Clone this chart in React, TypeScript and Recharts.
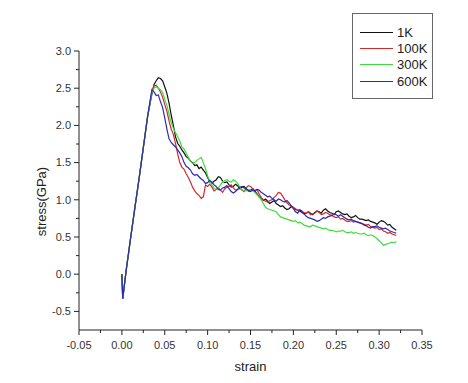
import React from "react";
import { LineChart, Line, XAxis, YAxis, Legend } from "recharts";

// strain values (shared by all four runs)
const strain = [
  0, 0.001, 0.005, 0.01, 0.015, 0.02, 0.025, 0.03,
  0.035, 0.0375, 0.04, 0.0425, 0.045, 0.0475, 0.05, 0.0525, 0.055, 0.0575,
  0.06, 0.0625, 0.065, 0.0675, 0.07, 0.0725, 0.075, 0.0775, 0.08, 0.0825,
  0.085, 0.0875, 0.09, 0.0925, 0.095, 0.0975, 0.1, 0.1025, 0.105, 0.1075,
  0.11, 0.1125, 0.115, 0.1175, 0.12, 0.1225, 0.125, 0.1275, 0.13, 0.1325,
  0.135, 0.1375, 0.14, 0.1425, 0.145, 0.1475, 0.15, 0.1525, 0.155, 0.1575,
  0.16, 0.1625, 0.165, 0.1675, 0.17, 0.1725, 0.175, 0.1775, 0.18, 0.1825,
  0.185, 0.1875, 0.19, 0.1925, 0.195, 0.1975, 0.2, 0.2025, 0.205, 0.2075,
  0.21, 0.2125, 0.215, 0.2175, 0.22, 0.2225, 0.225, 0.2275, 0.23, 0.2325,
  0.235, 0.2375, 0.24, 0.2425, 0.245, 0.2475, 0.25, 0.2525, 0.255, 0.2575,
  0.26, 0.2625, 0.265, 0.2675, 0.27, 0.2725, 0.275, 0.2775, 0.28, 0.2825,
  0.285, 0.2875, 0.29, 0.2925, 0.295, 0.2975, 0.3, 0.3025, 0.305, 0.3075,
  0.31, 0.3125, 0.315, 0.3175, 0.32,
];

// elastic part is the same for every temperature
const elasticRise = [0, -0.33, 0.05, 0.47, 0.88, 1.28, 1.7, 2.12];

const stress1K = [
  ...elasticRise,
  2.42, 2.55, 2.6, 2.64, 2.63, 2.6, 2.52, 2.43, 2.3, 2.14,
  2.0, 1.85, 1.76, 1.72, 1.67, 1.63, 1.58, 1.56, 1.52, 1.5,
  1.46, 1.47, 1.42, 1.44, 1.4, 1.36, 1.3, 1.24, 1.22, 1.25,
  1.27, 1.31, 1.3, 1.25, 1.23, 1.24, 1.2, 1.17, 1.18, 1.21,
  1.19, 1.15, 1.17, 1.18, 1.15, 1.12, 1.13, 1.15, 1.12, 1.08,
  1.04, 1.02, 0.99, 1.01, 0.98, 0.95, 0.97, 0.99, 0.95, 0.93,
  0.91, 0.92, 0.89, 0.87, 0.88, 0.91, 0.89, 0.87, 0.86, 0.85,
  0.83, 0.81, 0.82, 0.84, 0.82, 0.8, 0.83, 0.85, 0.84, 0.82,
  0.86, 0.88, 0.85, 0.83, 0.82, 0.8, 0.84, 0.85, 0.83, 0.81,
  0.8, 0.81, 0.78, 0.76, 0.77, 0.79, 0.76, 0.74, 0.74, 0.73,
  0.72, 0.73, 0.71, 0.7, 0.69, 0.67, 0.7, 0.72, 0.71, 0.69,
  0.66, 0.67, 0.63, 0.61, 0.59,
];

const stress100K = [
  ...elasticRise,
  2.46, 2.53, 2.54, 2.5, 2.45, 2.38, 2.28, 2.19, 2.06, 1.95,
  1.88, 1.76, 1.62, 1.5, 1.44, 1.41, 1.35, 1.3, 1.24, 1.17,
  1.12, 1.08, 1.06, 1.02, 1.04, 1.2, 1.18, 1.21, 1.17, 1.12,
  1.14, 1.16, 1.13, 1.1, 1.15, 1.17, 1.18, 1.2, 1.16, 1.13,
  1.14, 1.16, 1.13, 1.11, 1.16, 1.19, 1.18, 1.15, 1.12, 1.14,
  1.08, 1.03, 1.0, 0.98, 0.97, 0.99, 1.0, 1.03, 1.06, 1.1,
  1.09, 1.05, 1.0, 0.96, 0.93, 0.92, 0.9, 0.88, 0.86, 0.87,
  0.84, 0.83, 0.82, 0.84, 0.8, 0.81, 0.82, 0.85, 0.83, 0.8,
  0.81, 0.83, 0.82, 0.8, 0.79, 0.77, 0.76, 0.77, 0.74, 0.75,
  0.73, 0.71, 0.71, 0.72, 0.7, 0.71, 0.7, 0.69, 0.68, 0.67,
  0.66, 0.67, 0.64, 0.63, 0.62, 0.63, 0.6, 0.61, 0.58, 0.57,
  0.55, 0.56, 0.54, 0.53, 0.52,
];

const stress300K = [
  ...elasticRise,
  2.44, 2.5, 2.52, 2.5, 2.48, 2.44, 2.35, 2.27, 2.15, 2.04,
  1.96, 1.9, 1.85, 1.79, 1.71, 1.68, 1.63, 1.57, 1.52, 1.49,
  1.5, 1.53, 1.55, 1.57, 1.5, 1.42, 1.32, 1.25, 1.2, 1.16,
  1.14, 1.16, 1.2, 1.24, 1.26, 1.27, 1.25, 1.24, 1.27, 1.25,
  1.22, 1.17, 1.14, 1.12, 1.12, 1.14, 1.13, 1.12, 1.1, 1.07,
  1.04, 1.0, 0.95, 0.9, 0.88, 0.87, 0.86, 0.85, 0.84, 0.8,
  0.77, 0.76, 0.75, 0.74, 0.73, 0.72, 0.71, 0.72, 0.69, 0.7,
  0.68, 0.66, 0.65, 0.64, 0.64, 0.66, 0.65, 0.64, 0.63, 0.62,
  0.61, 0.62, 0.6, 0.59, 0.59, 0.58, 0.57, 0.58, 0.58, 0.59,
  0.57, 0.56, 0.56, 0.57, 0.55, 0.56, 0.55, 0.54, 0.54, 0.55,
  0.53, 0.52, 0.53, 0.52, 0.5, 0.48, 0.45, 0.42, 0.39, 0.4,
  0.41, 0.42, 0.43, 0.42, 0.44,
];

const stress600K = [
  ...elasticRise,
  2.48, 2.45, 2.4, 2.41, 2.32, 2.24, 2.1, 1.95, 1.82, 1.77,
  1.74, 1.71, 1.67, 1.63, 1.58, 1.5, 1.45, 1.43, 1.4, 1.35,
  1.33, 1.34, 1.31, 1.28, 1.26, 1.22, 1.23, 1.26, 1.24, 1.2,
  1.18, 1.14, 1.13, 1.16, 1.17, 1.19, 1.15, 1.11, 1.09, 1.11,
  1.14, 1.17, 1.18, 1.16, 1.15, 1.12, 1.11, 1.13, 1.12, 1.14,
  1.13, 1.1, 1.08, 1.06, 1.04, 1.05, 1.02, 1.0, 0.98, 1.01,
  1.0, 0.98, 0.97, 0.99, 0.96, 0.92, 0.88, 0.84, 0.82, 0.86,
  0.85, 0.81, 0.78, 0.76, 0.75, 0.74, 0.73, 0.71, 0.72, 0.74,
  0.76, 0.75, 0.77, 0.78, 0.79, 0.81, 0.8, 0.78, 0.8, 0.78,
  0.76, 0.74, 0.73, 0.74, 0.72, 0.71, 0.7, 0.69, 0.68, 0.66,
  0.65, 0.63, 0.62, 0.64, 0.64, 0.65, 0.63, 0.62, 0.61, 0.62,
  0.6, 0.58, 0.57, 0.56, 0.55,
];

const seriesNames = ["1K", "100K", "300K", "600K"];

// major + minor ticks
const xTicks = [
  -0.05, -0.025, 0, 0.025, 0.05, 0.075, 0.1, 0.125, 0.15, 0.175,
  0.2, 0.225, 0.25, 0.275, 0.3, 0.325, 0.35,
];
const yTicks = [
  -0.5, -0.25, 0, 0.25, 0.5, 0.75, 1.0, 1.25, 1.5, 1.75, 2.0, 2.25,
  2.5, 2.75, 3.0,
];

const data = strain.map((s, i) => ({
  strain: s,
  k1: stress1K[i],
  k100: stress100K[i],
  k300: stress300K[i],
  k600: stress600K[i],
}));

const FONT = "Arial, 'Liberation Sans', sans-serif";
const AXIS = "#222";

const isStep = (v: number, perUnit: number) =>
  Math.abs(Math.round(v * perUnit) - v * perUnit) < 1e-6;

const XTick = ({ x, y, payload }: any) => {
  const v = payload.value as number;
  const major = isStep(v, 20);
  return (
    <g>
      <line x1={x} x2={x} y1={y} y2={y + (major ? 5 : 3)} stroke={AXIS} />
      {major && (
        <text
          x={x}
          y={y + 15}
          dy="0.35em"
          textAnchor="middle"
          fontSize={11}
          fontFamily={FONT}
          fill="#333"
        >
          {v.toFixed(2)}
        </text>
      )}
    </g>
  );
};

const YTick = ({ x, y, payload }: any) => {
  const v = payload.value as number;
  const major = isStep(v, 2);
  return (
    <g>
      <line x1={x} x2={x - (major ? 5 : 3)} y1={y} y2={y} stroke={AXIS} />
      {major && (
        <text
          x={x - 8}
          y={y}
          dy="0.35em"
          textAnchor="end"
          fontSize={11}
          fontFamily={FONT}
          fill="#333"
        >
          {v.toFixed(1)}
        </text>
      )}
    </g>
  );
};

const LegendBox = ({ payload }: any) => {
  const items = [...(payload || [])].sort(
    (a: any, b: any) => seriesNames.indexOf(a.value) - seriesNames.indexOf(b.value)
  );
  return (
    <div
      style={{
        border: "1px solid #666",
        width: 81,
        height: 86,
        boxSizing: "border-box",
        paddingTop: 10,
        paddingLeft: 7,
        fontFamily: FONT,
        fontSize: 13,
        color: "#222",
        background: "#fff",
      }}
    >
      {items.map((p: any) => (
        <div
          key={p.value}
          style={{ display: "flex", alignItems: "center", height: 16.4 }}
        >
          <span
            style={{
              display: "inline-block",
              width: 33,
              borderTop: `1.5px solid ${p.color}`,
              marginRight: 4,
            }}
          />
          <span>{p.value}</span>
        </div>
      ))}
    </div>
  );
};

export default function App() {
  return (
    <div style={{ position: "absolute", left: 0, top: 0, background: "#fff" }}>
      <LineChart
        width={468}
        height={383}
        data={data}
        margin={{ top: 51, right: 46, bottom: 23, left: 3 }}
      >
        <XAxis
          dataKey="strain"
          type="number"
          domain={[-0.05, 0.35]}
          ticks={xTicks}
          interval={0}
          tickSize={0}
          tickMargin={0}
          tickLine={false}
          tick={<XTick />}
          height={30}
          stroke={AXIS}
          label={{
            value: "strain",
            position: "bottom",
            offset: 2,
            fontSize: 13,
            fontFamily: FONT,
            fill: "#222",
          }}
        />
        <YAxis
          type="number"
          domain={[-0.75, 3.0]}
          ticks={yTicks}
          interval={0}
          allowDataOverflow
          tickSize={0}
          tickMargin={0}
          tickLine={false}
          tick={<YTick />}
          width={76}
          stroke={AXIS}
          label={{
            value: "stress(GPa)",
            angle: -90,
            position: "center",
            dy: 11,
            fontSize: 13,
            fontFamily: FONT,
            fill: "#222",
          }}
        />
        <Legend
          layout="vertical"
          align="center"
          verticalAlign="middle"
          content={<LegendBox />}
          wrapperStyle={{ left: 352, top: 13, width: 81, height: 86 }}
        />
        <Line
          type="linear"
          dataKey="k1"
          name="1K"
          stroke="#111"
          strokeWidth={1.2}
          dot={false}
          isAnimationActive={false}
        />
        <Line
          type="linear"
          dataKey="k100"
          name="100K"
          stroke="#d42a2a"
          strokeWidth={1.2}
          dot={false}
          isAnimationActive={false}
        />
        <Line
          type="linear"
          dataKey="k300"
          name="300K"
          stroke="#3ddc3d"
          strokeWidth={1.2}
          dot={false}
          isAnimationActive={false}
        />
        <Line
          type="linear"
          dataKey="k600"
          name="600K"
          stroke="#2a2ab8"
          strokeWidth={1.2}
          dot={false}
          isAnimationActive={false}
        />
      </LineChart>
    </div>
  );
}
